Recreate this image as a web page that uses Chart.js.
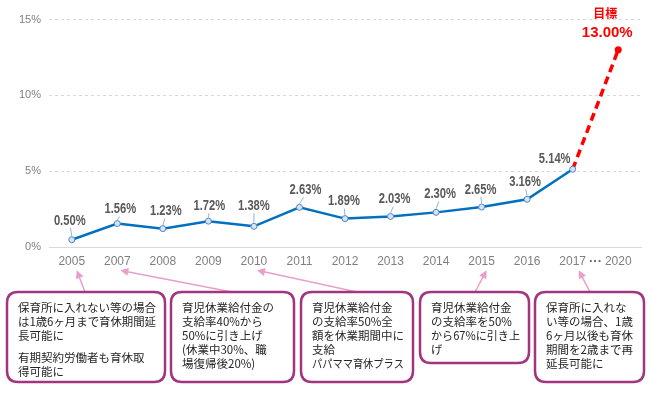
<!DOCTYPE html>
<html>
<head>
<meta charset="utf-8">
<script src="https://cdn.jsdelivr.net/npm/chart.js@4.4.1/dist/chart.umd.min.js"></script>
<style>
  html, body { margin: 0; padding: 0; background: #fff; }
  #wrap { width: 650px; height: 397px; }
</style>
</head>
<body>
<div id="wrap"><canvas id="chart" width="650" height="397"></canvas></div>
<script>
/* ================= DATA ================= */
const YEARS = ["2005", "2007", "2008", "2009", "2010", "2011", "2012", "2013", "2014", "2015", "2016", "2017", "2020"];
const ACTUAL = [0.50, 1.56, 1.23, 1.72, 1.38, 2.63, 1.89, 2.03, 2.30, 2.65, 3.16, 5.14, null];
const TARGET = [null, null, null, null, null, null, null, null, null, null, null, 5.14, 13.00];
const Y_MAX = 15;
const Y_STEP = 5;
const TARGET_TITLE = "目標";
const GAP_MARK = "···";

const NOTE_TARGETS = [0, 1, 4, 9, 11];
const NOTE_TEXTS = [
  ["保育所に入れない等の場合", "は1歳6ヶ月まで育休期間延", "長可能に", "", "有期契約労働者も育休取", "得可能に"],
  ["育児休業給付金の", "支給率40%から", "50%に引き上げ", "(休業中30%、職", "場復帰後20%)"],
  ["育児休業給付金", "の支給率50%全", "額を休業期間中に", "支給", "パパママ育休プラス"],
  ["育児休業給付金", "の支給率を50%", "から67%に引き上", "げ"],
  ["保育所に入れな", "い等の場合、1歳", "6ヶ月以後も育休", "期間を2歳まで再", "延長可能に"]
];

/* ================= STYLE ================= */
const SANS = '"Liberation Sans", Arial, sans-serif';
const CJK = '"Noto Sans CJK JP", "Noto Sans", sans-serif';

// label offsets from each point (dx, dy)
const LABEL_OFFSETS = [[-2, -19], [3, -14], [3, -17], [1, -15], [0, -20], [6, -17],
  [-1, -17], [4, -17], [4, -18], [-1, -17], [-2, -17], [-18, -10]];

// note boxes: x, y, w, h, arrow start x, arrow tip dx
const NOTE_BOXES = [
  [7, 292, 158, 90, 85, 5],
  [171, 292, 123, 90, 232, 3],
  [301, 292, 112, 90, 357, 3],
  [420, 292, 109, 71, 475, 5],
  [535, 292, 109, 90, 590, 6]
];

function roundRectPath(ctx, x, y, w, h, r) {
  ctx.beginPath();
  ctx.moveTo(x + r, y);
  ctx.lineTo(x + w - r, y);
  ctx.quadraticCurveTo(x + w, y, x + w, y + r);
  ctx.lineTo(x + w, y + h - r);
  ctx.quadraticCurveTo(x + w, y + h, x + w - r, y + h);
  ctx.lineTo(x + r, y + h);
  ctx.quadraticCurveTo(x, y + h, x, y + h - r);
  ctx.lineTo(x, y + r);
  ctx.quadraticCurveTo(x, y, x + r, y);
  ctx.closePath();
}

// narrow-looking text: squeeze horizontally
function narrowText(ctx, text, x, y, squeeze) {
  ctx.save();
  ctx.translate(x, y);
  ctx.scale(squeeze, 1);
  ctx.fillText(text, 0, 0);
  ctx.restore();
}

/* ================= PLUGINS ================= */
const pointLabels = {
  id: "pointLabels",
  afterDatasetsDraw(chart) {
    const ctx = chart.ctx;
    const meta = chart.getDatasetMeta(0);
    ctx.save();
    ctx.textAlign = "center";
    ctx.textBaseline = "middle";
    meta.data.forEach((pt, i) => {
      if (ACTUAL[i] == null) return;
      const [dx, dy] = LABEL_OFFSETS[i];
      const lx = pt.x + dx, ly = pt.y + dy;
      if (Math.abs(dx) < 10 && ly + 7 < pt.y - 4) {
        ctx.strokeStyle = "#8fb3e0";
        ctx.lineWidth = 1;
        ctx.beginPath();
        ctx.moveTo(pt.x, pt.y - 3.5);
        ctx.lineTo(lx - dx * 0.3, ly + 7);
        ctx.stroke();
      }
      ctx.font = "bold 14px " + SANS;
      ctx.fillStyle = "#595959";
      narrowText(ctx, ACTUAL[i].toFixed(2) + "%", lx, ly, 0.8);
    });

    // target label
    const tMeta = chart.getDatasetMeta(1);
    const last = TARGET.length - 1;
    const tp = tMeta.data[last];
    ctx.fillStyle = "#ff0000";
    ctx.font = "bold 15px " + SANS;
    ctx.fillText(TARGET[last].toFixed(2) + "%", tp.x - 11, tp.y - 17);
    ctx.font = "bold 12px " + CJK;
    ctx.fillText(TARGET_TITLE, tp.x - 13, tp.y - 36);
    ctx.restore();
  }
};

const notesPlugin = {
  id: "notes",
  afterDraw(chart) {
    const ctx = chart.ctx;
    const xs = chart.scales.x;
    ctx.save();

    // gap mark between last two years
    const n = YEARS.length;
    const gx = (xs.getPixelForValue(n - 2) + xs.getPixelForValue(n - 1)) / 2;
    ctx.fillStyle = "#666";
    ctx.font = "bold 13px " + SANS;
    ctx.textAlign = "center";
    ctx.textBaseline = "middle";
    ctx.fillText(GAP_MARK, gx, xs.top + 14);

    NOTE_BOXES.forEach((b, k) => {
      const [x, y, w, h, ax, tdx] = b;
      // arrow
      const tx = xs.getPixelForValue(NOTE_TARGETS[k]) + tdx;
      const ty = xs.top + 23;
      const ang = Math.atan2(ty - y, tx - ax);
      ctx.strokeStyle = "#e8a0c9";
      ctx.fillStyle = "#e8a0c9";
      ctx.lineWidth = 1.5;
      ctx.beginPath();
      ctx.moveTo(ax, y);
      ctx.lineTo(tx - 6 * Math.cos(ang), ty - 6 * Math.sin(ang));
      ctx.stroke();
      ctx.beginPath();
      ctx.moveTo(tx, ty);
      ctx.lineTo(tx - 8 * Math.cos(ang) + 4 * Math.sin(ang), ty - 8 * Math.sin(ang) - 4 * Math.cos(ang));
      ctx.lineTo(tx - 8 * Math.cos(ang) - 4 * Math.sin(ang), ty - 8 * Math.sin(ang) + 4 * Math.cos(ang));
      ctx.closePath();
      ctx.fill();

      // box
      roundRectPath(ctx, x, y, w, h, 11);
      ctx.fillStyle = "#fff";
      ctx.fill();
      ctx.strokeStyle = "#a3347f";
      ctx.lineWidth = 2.5;
      ctx.stroke();

      // text
      ctx.fillStyle = "#262626";
      ctx.font = "11.5px " + CJK;
      ctx.textAlign = "left";
      ctx.textBaseline = "middle";
      let ty2 = y + 15.5;
      NOTE_TEXTS[k].forEach(line => {
        if (line === "") { ty2 += 8; return; }
        ctx.fillText(line, x + 11, ty2, w - 20);
        ty2 += 14;
      });
    });
    ctx.restore();
  }
};

/* ================= CHART ================= */
new Chart(document.getElementById("chart").getContext("2d"), {
  type: "line",
  data: {
    labels: YEARS,
    datasets: [{
      data: ACTUAL,
      borderColor: "#0070c0",
      borderWidth: 2.5,
      pointRadius: 3,
      pointBorderWidth: 1,
      pointBorderColor: "#4f86c6",
      pointBackgroundColor: "#d6e4f5",
      tension: 0
    }, {
      data: TARGET,
      borderColor: "#ff0000",
      borderWidth: 3.5,
      borderDash: [8, 5],
      pointRadius: ctx => ctx.dataIndex === TARGET.length - 1 ? 3.5 : 0,
      pointBorderWidth: 0,
      pointBackgroundColor: "#ff0000",
      tension: 0,
      order: 1
    }]
  },
  options: {
    responsive: false,
    animation: false,
    devicePixelRatio: 1,
    layout: { padding: { top: 19.5, right: 9, bottom: 125.7, left: 0 } },
    plugins: { legend: { display: false }, tooltip: { enabled: false } },
    scales: {
      x: {
        offset: true,
        grid: { display: false, drawTicks: false },
        border: { display: true, color: "#d9d9d9", width: 1 },
        ticks: { color: "#7f7f7f", font: { family: SANS, size: 12 }, padding: 7, maxRotation: 0, autoSkip: false },
        afterFit(scale) { scale.height = 24; }
      },
      y: {
        min: 0,
        max: Y_MAX,
        ticks: { stepSize: Y_STEP, color: "#7f7f7f", font: { family: SANS, size: 11 }, padding: 8, callback: v => v + "%" },
        grid: { color: "#d9d9d9", lineWidth: 1, drawTicks: false },
        border: { display: false, dash: [3, 3] },
        afterFit(scale) { scale.width = 49; }
      }
    }
  },
  plugins: [pointLabels, notesPlugin]
});
</script>
</body>
</html>
